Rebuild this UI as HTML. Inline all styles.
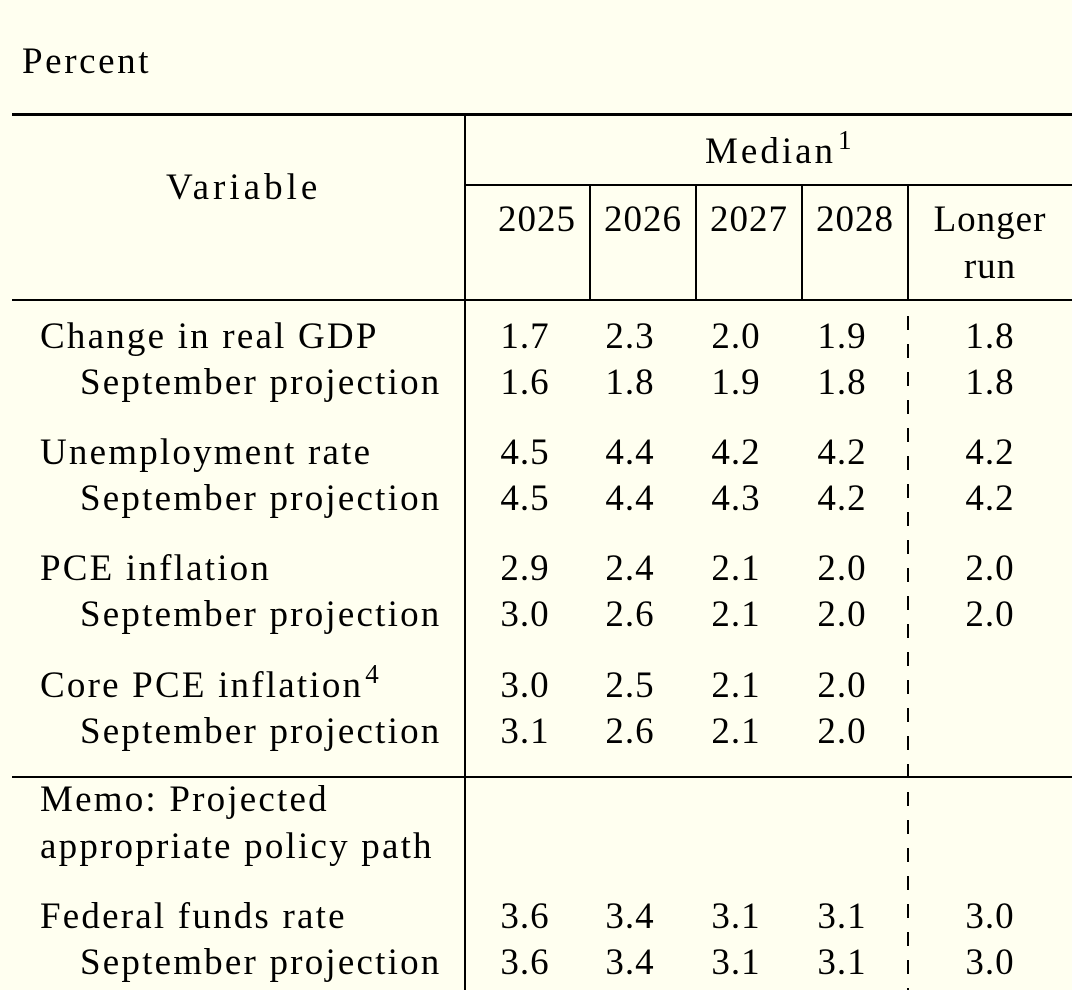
<!DOCTYPE html>
<html><head><meta charset="utf-8">
<style>
html,body{margin:0;padding:0;}
body{width:1072px;height:990px;background:#fffff0;position:relative;overflow:hidden;font-family:"Liberation Serif",serif;color:#000;}
.t{position:absolute;white-space:nowrap;font-size:37px;line-height:44px;}
.lab{letter-spacing:2.2px;}
.num{transform:translateX(-50%);letter-spacing:1px;}
.ln{position:absolute;background:#000;}
sup{font-size:27px;vertical-align:14px;line-height:0;margin-left:2px;}
</style></head>
<body>
<div class="t" style="left:22px;top:40px;letter-spacing:2.6px">Percent</div>
<div class="ln" style="left:12px;top:113px;width:1060px;height:3px"></div>
<div class="ln" style="left:464px;top:115px;width:2px;height:875px"></div>
<div class="ln" style="left:465px;top:184px;width:607px;height:2px"></div>
<div class="ln" style="left:12px;top:299px;width:1060px;height:2px"></div>
<div class="ln" style="left:589px;top:185px;width:2px;height:115px"></div>
<div class="ln" style="left:695px;top:185px;width:2px;height:115px"></div>
<div class="ln" style="left:801px;top:185px;width:2px;height:115px"></div>
<div class="ln" style="left:907px;top:185px;width:2px;height:115px"></div>
<div style="position:absolute;left:907px;top:316px;width:2px;height:674px;background:repeating-linear-gradient(to bottom,#000 0 14px,transparent 14px 28px)"></div>
<div class="ln" style="left:12px;top:776px;width:1060px;height:2px"></div>

<div class="t" style="left:166px;top:166px;letter-spacing:4px">Variable</div>
<div class="t" style="left:705px;top:130px;letter-spacing:3px">Median<sup>1</sup></div>
<div class="t num" style="left:537px;top:198px">2025</div>
<div class="t num" style="left:643px;top:198px">2026</div>
<div class="t num" style="left:749px;top:198px">2027</div>
<div class="t num" style="left:855px;top:198px">2028</div>
<div class="t num" style="left:990px;top:198px">Longer</div>
<div class="t num" style="left:990px;top:245px">run</div>

<div class="t lab" style="left:40px;top:778px">Memo: Projected</div>
<div class="t lab" style="left:40px;top:825px">appropriate policy path</div>

<script>
const labels = ["Change in real GDP","September projection","Unemployment rate","September projection","PCE inflation","September projection","Core PCE inflation","September projection","Federal funds rate","September projection"];
const y2025 = ["1.7","1.6","4.5","4.5","2.9","3.0","3.0","3.1","3.6","3.6"];
const y2026 = ["2.3","1.8","4.4","4.4","2.4","2.6","2.5","2.6","3.4","3.4"];
const y2027 = ["2.0","1.9","4.2","4.3","2.1","2.1","2.1","2.1","3.1","3.1"];
const y2028 = ["1.9","1.8","4.2","4.2","2.0","2.0","2.0","2.0","3.1","3.1"];
const longerRun = ["1.8","1.8","4.2","4.2","2.0","2.0","","","3.0","3.0"];
const rowCenters=[337,383,453,499,569,615,686,732,917,963];
const cols=[[y2025,525],[y2026,630],[y2027,736],[y2028,842],[longerRun,990]];
labels.forEach((l,i)=>{
  const d=document.createElement('div');
  d.className='t lab';
  const sub=i%2===1;
  d.style.left=(sub?80:40)+'px';
  d.style.top=(rowCenters[i]-22)+'px';
  d.innerHTML=l+(i===6?'<sup>4</sup>':'');
  
  
  document.body.appendChild(d);
  cols.forEach(c=>{
    const v=c[0][i]; if(!v) return;
    const e=document.createElement('div');
    e.className='t num';
    e.style.left=c[1]+'px';
    e.style.top=(rowCenters[i]-22)+'px';
    e.textContent=v;
    
    
    document.body.appendChild(e);
  });
});
</script>
</body></html>
